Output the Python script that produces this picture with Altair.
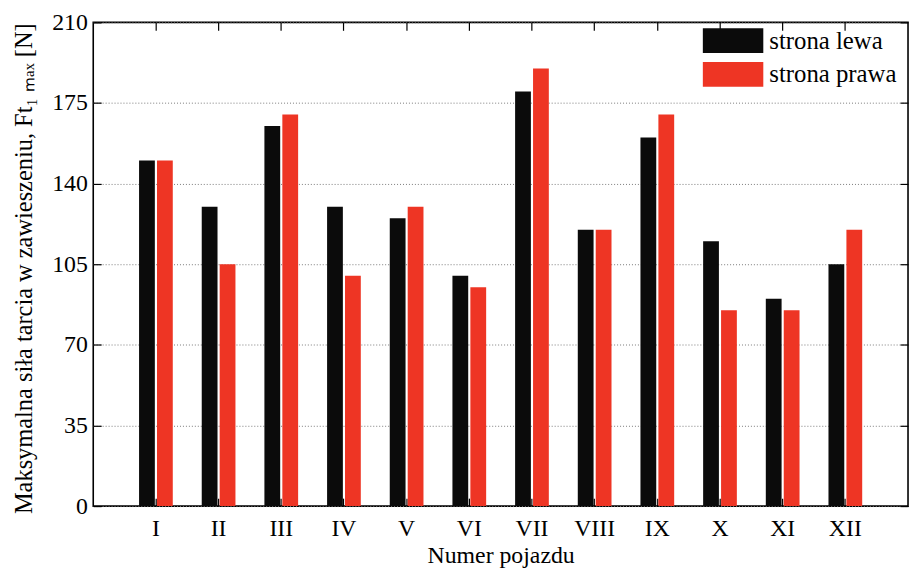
import altair as alt
import pandas as pd

# ---- data ----
vehicles = ["I", "II", "III", "IV", "V", "VI", "VII", "VIII", "IX", "X", "XI", "XII"]
left_side = [150, 130, 165, 130, 125, 100, 180, 120, 160, 115, 90, 105]
right_side = [150, 105, 170, 100, 130, 95, 190, 120, 170, 85, 85, 120]
series = ["strona lewa", "strona prawa"]
series_colors = ["#0b0b0b", "#ee3524"]
y_ticks = [0, 35, 70, 105, 140, 175, 210]

rows = []
for v, l, r in zip(vehicles, left_side, right_side):
    rows.append({"pojazd": v, "strona": series[0], "sila": l})
    rows.append({"pojazd": v, "strona": series[1], "sila": r})
df = pd.DataFrame(rows)

W, H = 822, 488
FONT = "Liberation Serif"
FS = 24

x_scale = alt.Scale(domain=vehicles, paddingInner=0.462, paddingOuter=0.731)
xo_scale = alt.Scale(domain=series, paddingInner=0.12, paddingOuter=0)
y_scale = alt.Scale(domain=[0, 210], nice=False, zero=True)
color_scale = alt.Scale(domain=series, range=series_colors)


def enc(x_axis, y_axis):
    return dict(
        x=alt.X("pojazd:N", sort=vehicles, scale=x_scale, axis=x_axis),
        xOffset=alt.XOffset("strona:N", sort=series, scale=xo_scale),
        y=alt.Y("sila:Q", scale=y_scale, axis=y_axis),
    )


main_x_axis = alt.Axis(
    title="Numer pojazdu", labelAngle=0, tickSize=0, ticks=False, domain=False,
    labelFont=FONT, labelFontSize=FS, labelColor="black", labelPadding=11,
    titleFont=FONT, titleFontSize=FS, titleFontWeight="normal", titleColor="black",
    titlePadding=3, grid=False,
)
main_y_axis = alt.Axis(
    values=y_ticks, title="Maksymalna siła tarcia w zawieszeniu, Ft\u2081 \u2098\u2090\u2093 [N]",
    tickSize=0, ticks=False, domain=False, grid=True, gridColor="#7a7a7a",
    gridDash=[1, 2], gridWidth=1,
    labelFont=FONT, labelFontSize=FS, labelColor="black", labelPadding=6,
    titleFont=FONT, titleFontSize=24.6, titleFontWeight="normal", titleColor="black",
    titlePadding=15, titleY=H / 2 + 4,
)

tick_common = dict(labels=False, domain=False, grid=False, ticks=True, tickSize=8,
                   tickColor="black", tickWidth=1.2, title=None)

legend = alt.Legend(
    title=None, orient="none", legendX=633, legendY=6, padding=0,
    symbolType="M-2.44,-1L2.44,-1L2.44,1L-2.44,1Z", symbolSize=625,
    symbolStrokeWidth=0, symbolOpacity=1,
    labelFont=FONT, labelFontSize=25, labelColor="black", labelOffset=24,
    rowPadding=8,
)

main = alt.Chart(df).mark_bar().encode(
    color=alt.Color("strona:N", scale=color_scale, sort=series, legend=legend),
    **enc(main_x_axis, main_y_axis),
)

ticks_a = alt.Chart(df).mark_bar(opacity=0).encode(
    **enc(alt.Axis(orient="top", offset=-H, **tick_common),
          alt.Axis(orient="right", offset=-W, values=y_ticks, **tick_common))
)
ticks_b = alt.Chart(df).mark_bar(opacity=0).encode(
    **enc(alt.Axis(orient="bottom", offset=-H, **tick_common),
          alt.Axis(orient="left", offset=-W, values=y_ticks, **tick_common))
)

chart = (
    alt.layer(main, ticks_a, ticks_b)
    .resolve_axis(x="independent", y="independent")
    .properties(
        width=W, height=H,
        padding={"left": 86, "top": 12, "right": 2, "bottom": 64},
        autosize=alt.AutoSizeParams(type="none"),
        background="white",
    )
    .configure_view(stroke="black", strokeWidth=1.6)
)

chart.save("out.html", embed_options={"renderer": "svg", "actions": False})
